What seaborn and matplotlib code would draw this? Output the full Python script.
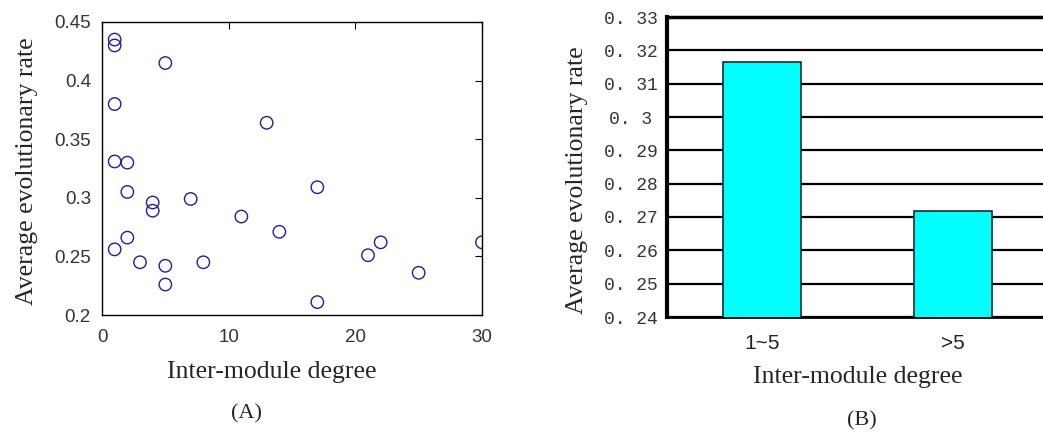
import numpy as np
import pandas as pd
import matplotlib
matplotlib.use("Agg")
import matplotlib.pyplot as plt
import seaborn as sns

# (A) inter-module degree vs average evolutionary rate
degree = [1, 1, 5, 1, 13, 1, 2, 2, 4, 4, 7, 17, 11, 14, 2, 1, 3, 5, 8, 5, 17, 21, 22, 25, 30]
rate = [0.435, 0.430, 0.415, 0.380, 0.364, 0.331, 0.330, 0.305, 0.296, 0.289, 0.299, 0.309,
        0.284, 0.271, 0.266, 0.256, 0.245, 0.242, 0.245, 0.226, 0.211, 0.251, 0.262, 0.236, 0.262]

# (B) grouped average
groups = ["1~5", ">5"]
group_rate = [0.3166, 0.2718]

W, H = 1043, 432
sns.set_style("white")
plt.rcParams["font.family"] = ["Liberation Serif", "DejaVu Serif"]

fig = plt.figure(figsize=(W / 100, H / 100), dpi=100)

def px_box(x0, y0, x1, y1):
    return [x0 / W, 1 - y1 / H, (x1 - x0) / W, (y1 - y0) / H]

# ---- panel A: scatter ----
axA = fig.add_axes(px_box(102, 22, 482, 315))
sns.scatterplot(x=degree, y=rate, ax=axA, marker="o", s=80, facecolor="none",
                edgecolor="#1f1f99", linewidth=1.0)
axA.set_xlim(0, 30)
axA.set_ylim(0.2, 0.45)
axA.set_xticks([0, 10, 20, 30])
axA.set_yticks([0.2, 0.25, 0.3, 0.35, 0.4, 0.45])
axA.set_yticklabels(["0.2", "0.25", "0.3", "0.35", "0.4", "0.45"])
axA.tick_params(direction="in", length=5, width=0.8, top=True, right=True,
                labelsize=13.5, colors="black", pad=8)
axA.tick_params(axis="x", pad=10)
for lab in axA.get_xticklabels() + axA.get_yticklabels():
    lab.set_family(["Liberation Sans", "DejaVu Sans"])
    lab.set_color("#333333")
for sp in axA.spines.values():
    sp.set_color("black")
    sp.set_linewidth(1.0)
axA.set_xlabel("Inter-module degree", fontsize=18.5, va="center")
axA.xaxis.set_label_coords((272 - 102) / 380, (315 - 372) / 293)
axA.set_ylabel("Average evolutionary rate", fontsize=18.5, va="center")
axA.yaxis.set_label_coords((27 - 102) / 380, (315 - 171) / 293)

# ---- panel B: bars ----
axB = fig.add_axes(px_box(667, 17, 1048, 317))
sns.barplot(x=groups, y=group_rate, ax=axB, color="#00ffff", saturation=1,
            width=0.41, edgecolor="#1a2a2a", linewidth=1.2, zorder=3)
axB.set_xlim(-0.5, 1.5)
axB.set_ylim(0.24, 0.33)
yt = np.round(np.arange(0.24, 0.3301, 0.01), 2)
axB.set_yticks(yt)
axB.set_yticklabels([f"{v:g}".replace("0.", "0. ") for v in yt])
axB.yaxis.grid(True, color="black", linewidth=1.6)
axB.set_axisbelow(True)
axB.tick_params(axis="y", length=0, labelsize=13, pad=26)
axB.tick_params(axis="x", length=0, labelsize=15, pad=12)
for lab in axB.get_yticklabels():
    lab.set_family(["Liberation Mono", "DejaVu Sans Mono"])
    lab.set_color("#333333")
    lab.set_horizontalalignment("center")
for lab in axB.get_xticklabels():
    lab.set_family(["Liberation Sans", "DejaVu Sans"])
    lab.set_color("#222222")
axB.spines["right"].set_visible(False)
axB.spines["left"].set_linewidth(3)
axB.spines["top"].set_linewidth(2.5)
axB.spines["bottom"].set_linewidth(2)
for sp in axB.spines.values():
    sp.set_color("black")
axB.set_xlabel("Inter-module degree", fontsize=18.5, va="center")
axB.xaxis.set_label_coords((858 - 667) / 381, (317 - 377) / 300)
axB.set_ylabel("Average evolutionary rate", fontsize=18.5, va="center")
axB.yaxis.set_label_coords((577 - 667) / 381, (317 - 180) / 300)

# panel tags
fig.text(246 / W, 1 - 414 / H, "(A)", ha="center", va="center", fontsize=16)
fig.text(862 / W, 1 - 421 / H, "(B)", ha="center", va="center", fontsize=16)

fig.savefig("out.png", dpi=100)
